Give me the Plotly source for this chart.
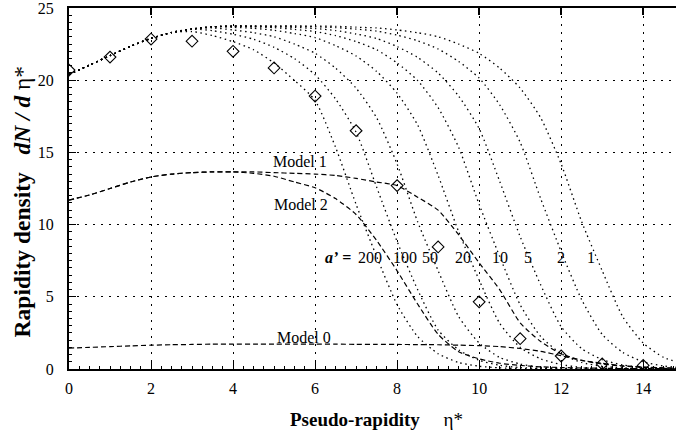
import plotly.graph_objects as go

# ---------------- data ----------------
X_CURVE = [0, 0.5, 1, 1.5, 2, 2.5, 3, 3.5, 4, 4.5, 5, 5.5, 6, 6.5, 7, 7.5,
           8, 8.5, 9, 9.5, 10, 10.5, 11, 11.5, 12, 12.5, 13, 13.5, 14, 14.5, 15]

a200 = [20.4, 21.05, 21.7, 22.35, 22.9, 23.3, 23.37, 23.09, 22.67, 22.11, 21.19, 19.98, 18.6, 15.35, 11.4, 7.8,
        4.45, 2.25, 1.06, 0.45, 0.19, 0.08, 0.03, 0.02, 0.01, 0.01, 0.01, 0.01, 0.01, 0.01, 0.01]
a100 = [20.4, 21.05, 21.7, 22.35, 22.9, 23.3, 23.55, 23.43, 23.18, 22.84, 22.28, 21.49, 20.38, 18.7, 16.4, 12.6,
        8.83, 5.5, 2.7, 1.33, 0.6, 0.26, 0.10, 0.04, 0.02, 0.01, 0.01, 0.01, 0.01, 0.01, 0.01]
a50 = [20.4, 21.05, 21.7, 22.35, 22.9, 23.3, 23.55, 23.62, 23.48, 23.29, 23.01, 22.5, 21.86, 20.84, 19.45, 17.4,
       14.2, 10.2, 6.81, 3.63, 1.8, 0.8, 0.35, 0.12, 0.06, 0.03, 0.01, 0.01, 0.01, 0.01, 0.01]
a20 = [20.4, 21.05, 21.7, 22.35, 22.9, 23.3, 23.55, 23.7, 23.66, 23.59, 23.46, 23.23, 22.95, 22.39, 21.68, 20.61,
       19.1, 16.9, 13.4, 9.51, 6.16, 3.17, 1.5, 0.7, 0.31, 0.11, 0.05, 0.03, 0.01, 0.01, 0.01]
a10 = [20.4, 21.05, 21.7, 22.35, 22.9, 23.3, 23.55, 23.7, 23.75, 23.69, 23.64, 23.52, 23.37, 23.09, 22.67, 22.11,
       21.19, 19.98, 18.1, 15.35, 11.4, 7.8, 4.45, 2.25, 1.06, 0.45, 0.19, 0.08, 0.03, 0.02, 0.01]
a5 = [20.4, 21.05, 21.7, 22.35, 22.9, 23.3, 23.55, 23.7, 23.75, 23.75, 23.71, 23.66, 23.58, 23.44, 23.2, 22.89,
      22.33, 21.58, 20.5, 18.9, 16.65, 13.0, 9.17, 5.83, 2.93, 1.41, 0.65, 0.28, 0.1, 0.04, 0.02]
a2 = [20.4, 21.05, 21.7, 22.35, 22.9, 23.3, 23.55, 23.7, 23.75, 23.75, 23.75, 23.75, 23.7, 23.64, 23.54, 23.4,
      23.12, 22.73, 22.16, 21.3, 20.15, 18.3, 15.7, 11.8, 8.14, 4.8, 2.4, 1.15, 0.5, 0.21, 0.09]
a1 = [20.4, 21.05, 21.7, 22.35, 22.9, 23.3, 23.55, 23.7, 23.75, 23.75, 23.75, 23.75, 23.75, 23.73, 23.67, 23.62,
      23.48, 23.29, 23.01, 22.5, 21.86, 20.84, 19.45, 17.4, 14.2, 10.2, 6.81, 3.63, 1.8, 0.8, 0.35]

model1 = [11.7, 12.05, 12.5, 12.95, 13.3, 13.5, 13.6, 13.65, 13.65, 13.65, 13.6, 13.55, 13.5, 13.4, 13.2, 12.95,
          12.7, 11.9, 11.0, 9.3, 7.35, 5.5, 3.2, 1.9, 1.05, 0.6, 0.35, 0.2, 0.12, 0.07, 0.04]
model2 = [11.7, 12.05, 12.5, 12.95, 13.3, 13.5, 13.6, 13.65, 13.65, 13.55, 13.35, 12.95, 12.55, 11.8, 10.7, 8.9,
          6.8, 4.5, 2.4, 1.2, 0.7, 0.4, 0.25, 0.15, 0.1, 0.07, 0.05, 0.03, 0.02, 0.02, 0.01]
model0 = [1.45, 1.5, 1.55, 1.6, 1.65, 1.68, 1.7, 1.72, 1.72, 1.72, 1.72, 1.72, 1.72, 1.72, 1.71, 1.7,
          1.7, 1.69, 1.68, 1.65, 1.62, 1.55, 1.42, 1.22, 0.92, 0.6, 0.4, 0.22, 0.14, 0.08, 0.05]

data_x = [0, 1, 2, 3, 4, 5, 6, 7, 8, 9, 10, 11, 12, 13, 14]
data_y = [20.7, 21.6, 22.85, 22.7, 22.0, 20.85, 18.9, 16.5, 12.7, 8.45, 4.65, 2.1, 0.9, 0.35, 0.25]

a_labels = ["200", "100", "50", "20", "10", "5", "2", "1"]
a_label_x = [7.34, 8.2, 8.8, 9.6, 10.5, 11.2, 12.0, 12.73]
a_label_y = 7.75

model_labels = ["Model 1", "Model 2", "Model 0"]
model_label_x = [5.63, 5.66, 5.73]
model_label_y = [14.4, 11.36, 2.2]

x_ticks = [0, 2, 4, 6, 8, 10, 12, 14]
y_ticks = [0, 5, 10, 15, 20, 25]

# ---------------- figure ----------------
FONT = "Liberation Serif, Times New Roman, serif"
fig = go.Figure()

dot_style = dict(color="black", width=1.3, dash="1.5px,3.5px", shape="spline", smoothing=0.6)
for ys in [a200, a100, a50, a20, a10, a5, a2, a1]:
    fig.add_trace(go.Scatter(x=X_CURVE, y=ys, mode="lines", line=dot_style,
                             showlegend=False, hoverinfo="skip"))

dash_style = dict(color="black", width=1.2, dash="5px,3px", shape="spline", smoothing=0.6)
for ys in [model1, model2, model0]:
    fig.add_trace(go.Scatter(x=X_CURVE, y=ys, mode="lines", line=dash_style,
                             showlegend=False, hoverinfo="skip"))

fig.add_trace(go.Scatter(x=data_x, y=data_y, mode="markers",
                         marker=dict(symbol="diamond-open", size=9, color="black",
                                     line=dict(width=1.1, color="black")),
                         showlegend=False, hoverinfo="skip"))

# invisible trace for the top axis
fig.add_trace(go.Scatter(x=[0], y=[0], xaxis="x2", mode="markers",
                         marker=dict(opacity=0), showlegend=False, hoverinfo="skip"))

annotations = []
for t, x in zip(a_labels, a_label_x):
    annotations.append(dict(x=x, y=a_label_y, xref="x", yref="y", text=t, showarrow=False,
                            font=dict(family=FONT, size=16, color="black")))
annotations.append(dict(x=6.56, y=a_label_y, xref="x", yref="y", text="<b><i>a’</i> =</b>",
                        showarrow=False, font=dict(family=FONT, size=16, color="black")))
for t, x, y in zip(model_labels, model_label_x, model_label_y):
    annotations.append(dict(x=x, y=y, xref="x", yref="y", text=t, showarrow=False,
                            font=dict(family=FONT, size=16, color="black")))
annotations.append(dict(x=0.506, y=-0.141, xref="paper", yref="paper",
                        xanchor="center", yanchor="middle",
                        text="<b>Pseudo-rapidity</b>&nbsp;&nbsp;&nbsp;&nbsp;&nbsp;η*", showarrow=False,
                        font=dict(family=FONT, size=19, color="black")))
annotations.append(dict(x=-0.077, y=0.465, xref="paper", yref="paper", textangle=-90,
                        xanchor="center", yanchor="middle",
                        text=("<b>Rapidity density</b>&nbsp;&nbsp;&nbsp;"
                              "<b><i>dN&nbsp;/&nbsp;d</i></b>&nbsp;η*"),
                        showarrow=False,
                        font=dict(family=FONT, size=23.5, color="black")))

grid_dash = "1.5px,6.5px"
fig.update_layout(
    width=676, height=439,
    margin=dict(l=69, r=0, t=8, b=70, autoexpand=False),
    paper_bgcolor="white", plot_bgcolor="white",
    annotations=annotations,
    xaxis=dict(range=[0, 14.8], tickvals=x_ticks, showgrid=True, gridcolor="black",
               griddash=grid_dash, gridwidth=1, zeroline=False, automargin=False,
               showline=True, linecolor="black", linewidth=2,
               ticks="inside", ticklen=8, tickwidth=1, tickcolor="black",
               minor=dict(dtick=0.25, ticks="inside", ticklen=3, tickcolor="black", showgrid=False),
               tickfont=dict(family=FONT, size=16, color="black"), ticklabelstandoff=4,
               ticklabeloverflow="allow"),
    xaxis2=dict(range=[0, 14.8], overlaying="x", side="top", tickvals=x_ticks,
                showticklabels=False, showgrid=False, zeroline=False, automargin=False,
                showline=True, linecolor="black", linewidth=1.5,
                ticks="inside", ticklen=7, tickwidth=1.5, tickcolor="black"),
    yaxis=dict(range=[0, 25], tickvals=y_ticks, showgrid=True, gridcolor="black",
               griddash=grid_dash, gridwidth=1, zeroline=False, automargin=False,
               showline=True, linecolor="black", linewidth=2, mirror=False,
               ticks="inside", ticklen=7, tickwidth=1, tickcolor="black",
               minor=dict(dtick=0.5, ticks="inside", ticklen=3, tickcolor="black", showgrid=False),
               tickfont=dict(family=FONT, size=16, color="black"), ticklabelstandoff=10,
               ticklabeloverflow="allow"),
)

fig.write_html("out.html", config={"displayModeBar": False},
               post_script="document.body.style.margin='0';document.body.style.padding='0';")
